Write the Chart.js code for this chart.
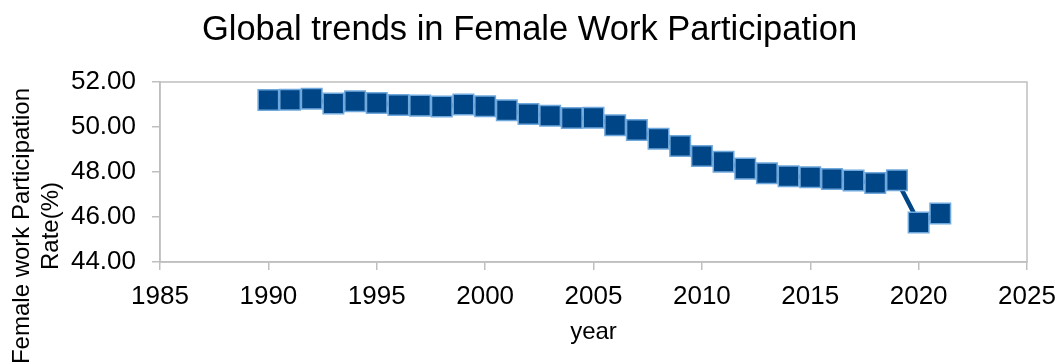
<!DOCTYPE html>
<html>
<head>
<meta charset="utf-8">
<script src="https://cdn.jsdelivr.net/npm/chart.js@4/dist/chart.umd.min.js"></script>
<style>
  html, body { margin: 0; padding: 0; background: #fff; }
  #wrap { width: 1059px; height: 362px; position: relative; }
</style>
</head>
<body>
<div id="wrap"><canvas id="trendChart"></canvas></div>
<script>
// years and rates
const years = [1990, 1991, 1992, 1993, 1994, 1995, 1996, 1997, 1998, 1999,
               2000, 2001, 2002, 2003, 2004, 2005, 2006, 2007, 2008, 2009,
               2010, 2011, 2012, 2013, 2014, 2015, 2016, 2017, 2018, 2019,
               2020, 2021];
const rates = [51.20, 51.21, 51.26, 51.04, 51.14, 51.07, 50.98, 50.95, 50.91, 51.00,
               50.92, 50.74, 50.58, 50.50, 50.40, 50.41, 50.08, 49.87, 49.48, 49.16,
               48.71, 48.46, 48.15, 47.94, 47.81, 47.77, 47.69, 47.62, 47.51, 47.63,
               45.76, 46.16];
const yTitleLines = ['Female work Participation', 'Rate(%)'];
const xTicks = [1985, 2025, 5]; // min, max, step
const yTicks = [44, 52, 2];

const FONT = '"Liberation Sans", Arial, sans-serif';
const GRAY = '#bfbfbf';

// frame around the plot area (top and right sides too)
const frame = {
    id: 'frame',
    beforeDatasetsDraw(chart) {
        const { ctx, chartArea: a } = chart;
        ctx.save();
        ctx.strokeStyle = GRAY;
        ctx.lineWidth = 1.5;
        ctx.strokeRect(a.left, a.top, a.right - a.left, a.bottom - a.top);
        ctx.restore();
    }
};

// y title sits lower than the plot centre in the original
const yTitle = {
    id: 'yTitle',
    afterDraw(chart) {
        const ctx = chart.ctx;
        ctx.save();
        ctx.fillStyle = '#000';
        ctx.font = '24px ' + FONT;
        ctx.textAlign = 'center';
        ctx.textBaseline = 'alphabetic';
        const xs = [29, 57.5];
        yTitleLines.forEach((t, i) => {
            ctx.save();
            ctx.translate(xs[i], 226);
            ctx.rotate(-Math.PI / 2);
            ctx.fillText(t, 0, 0);
            ctx.restore();
        });
        ctx.restore();
    }
};

new Chart(document.getElementById('trendChart'), {
    type: 'line',
    data: {
        datasets: [{
            label: 'Female work participation',
            data: years.map((y, i) => ({ x: y, y: rates[i] })),
            borderColor: '#004586',
            borderWidth: 4.5,
            backgroundColor: '#004586',
            pointStyle: 'rect',
            pointRadius: 14.5,
            pointBackgroundColor: '#004586',
            pointBorderColor: '#6fa8dc',
            pointBorderWidth: 1.5,
            tension: 0
        }]
    },
    options: {
        responsive: true,
        maintainAspectRatio: false,
        animation: false,
        layout: { padding: 0 },
        plugins: {
            legend: { display: false },
            tooltip: { enabled: false },
            title: {
                display: true,
                text: 'Global trends in Female Work Participation',
                color: '#000',
                font: { family: FONT, size: 34.5, weight: 'normal' },
                padding: { top: 10, bottom: 30.6 }
            }
        },
        scales: {
            x: {
                type: 'linear',
                min: xTicks[0],
                max: xTicks[1],
                ticks: {
                    stepSize: xTicks[2],
                    color: '#000',
                    font: { family: FONT, size: 26 },
                    padding: 11,
                    maxRotation: 0,
                    callback: v => String(v)
                },
                grid: { drawOnChartArea: false, color: GRAY, tickLength: 8, lineWidth: 1.5 },
                border: { color: GRAY, width: 1.5 },
                title: {
                    display: true,
                    text: 'year',
                    color: '#000',
                    font: { family: FONT, size: 24 },
                    padding: { top: 0, bottom: 15 }
                },
                afterFit(scale) {
                    scale.height = 100;
                    scale.paddingRight = 32;
                }
            },
            y: {
                min: yTicks[0],
                max: yTicks[1],
                ticks: {
                    stepSize: yTicks[2],
                    color: '#000',
                    font: { family: FONT, size: 26 },
                    padding: 16,
                    callback: v => v.toFixed(2)
                },
                grid: { drawOnChartArea: false, color: GRAY, tickLength: 8, lineWidth: 1.5 },
                border: { color: GRAY, width: 1.5 },
                afterFit(scale) { scale.width = 160; }
            }
        }
    },
    plugins: [frame, yTitle]
});
</script>
</body>
</html>
